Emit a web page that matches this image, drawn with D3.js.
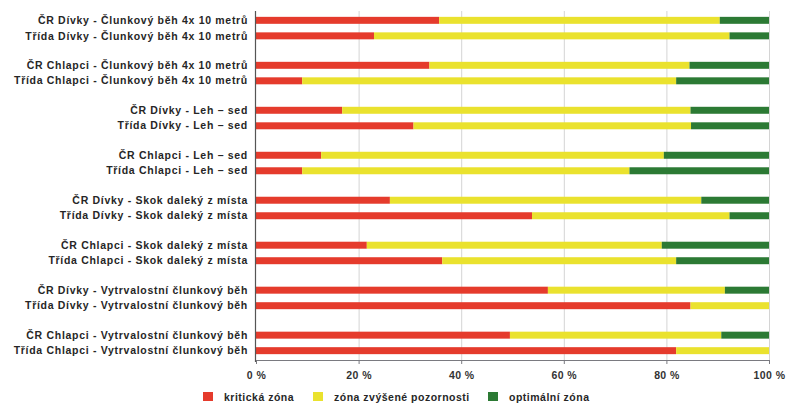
<!DOCTYPE html>
<html>
<head>
<meta charset="utf-8">
<script src="https://cdn.jsdelivr.net/npm/d3@7"></script>
<style>
  html, body { margin: 0; padding: 0; background: #fff; }
  svg { display: block; font-family: "Liberation Sans", Arial, sans-serif; }
</style>
</head>
<body>
<svg id="chart" width="788" height="403"></svg>
<script>
// Fitness test categories (pairs: national ČR vs. class)
const groups = [
  "Člunkový běh Dívky", "Člunkový běh Chlapci",
  "Leh – sed Dívky", "Leh – sed Chlapci",
  "Skok Dívky", "Skok Chlapci",
  "Vytrvalostní Dívky", "Vytrvalostní Chlapci"
];
const rowLabels = [
  "ČR Dívky - Člunkový běh 4x 10 metrů", "Třída Dívky - Člunkový běh 4x 10 metrů",
  "ČR Chlapci - Člunkový běh 4x 10 metrů", "Třída Chlapci - Člunkový běh 4x 10 metrů",
  "ČR Dívky - Leh – sed", "Třída Dívky - Leh – sed",
  "ČR Chlapci - Leh – sed", "Třída Chlapci - Leh – sed",
  "ČR Dívky - Skok daleký z místa", "Třída Dívky - Skok daleký z místa",
  "ČR Chlapci - Skok daleký z místa", "Třída Chlapci - Skok daleký z místa",
  "ČR Dívky - Vytrvalostní člunkový běh", "Třída Dívky - Vytrvalostní člunkový běh",
  "ČR Chlapci - Vytrvalostní člunkový běh", "Třída Chlapci - Vytrvalostní člunkový běh"
];
// Percent shares per zone
const kriticka = [35.7, 23.0, 33.8, 9.0, 16.8, 30.7, 12.7, 9.0, 26.1, 53.8, 21.6, 36.3, 56.9, 84.7, 49.5, 81.9];
const zvysena  = [54.7, 69.3, 50.7, 72.9, 67.9, 54.1, 66.8, 63.8, 60.7, 38.5, 57.5, 45.6, 34.5, 15.3, 41.2, 18.1];
const optimalni = [9.6, 7.7, 15.5, 18.1, 15.3, 15.2, 20.5, 27.2, 13.2, 7.7, 20.9, 18.1, 8.6, 0, 9.3, 0];
const seriesNames = ["kritická zóna", "zóna zvýšené pozornosti", "optimální zóna"];
const seriesColors = ["#e53b2c", "#eae22e", "#2c7a34"];
const tickValues = [0, 20, 40, 60, 80, 100];

const svg = d3.select("#chart");
const plotLeft = 256, plotRight = 769, plotTop = 11, plotBottom = 360;

const x = d3.scaleLinear().domain([0, 100]).range([plotLeft, plotRight]);
const yGroup = d3.scaleBand().domain(groups).range([plotTop, plotBottom])
  .paddingInner(0.5).paddingOuter(0.13);
const yInner = d3.scaleBand().domain([0, 1]).range([0, yGroup.bandwidth()])
  .paddingInner(0.55).paddingOuter(0);

const rows = rowLabels.map((label, i) => ({
  label, i,
  values: [kriticka[i], zvysena[i], optimalni[i]]
}));
const rowY = r => yGroup(groups[Math.floor(r.i / 2)]) + yInner(r.i % 2);

// Vertical gridlines
svg.append("g").selectAll("line")
  .data(tickValues.filter(v => v > 0))
  .join("line")
  .attr("x1", d => x(d) + 0.5).attr("x2", d => x(d) + 0.5)
  .attr("y1", plotTop).attr("y2", plotBottom)
  .attr("stroke", "#d4d4d4").attr("stroke-width", 1);

// Stacked bars
const stack = d3.stack().keys([0, 1, 2]).value((d, k) => d.values[k]);
const layers = stack(rows);
svg.append("g").selectAll("g")
  .data(layers)
  .join("g")
  .attr("fill", (d, k) => seriesColors[k])
  .selectAll("rect")
  .data(d => d)
  .join("rect")
  .attr("x", d => x(d[0]))
  .attr("width", d => Math.max(0, x(d[1]) - x(d[0])))
  .attr("y", d => rowY(d.data))
  .attr("height", yInner.bandwidth());

// Row labels
svg.append("g").selectAll("text")
  .data(rows)
  .join("text")
  .attr("x", plotLeft - 8)
  .attr("y", r => rowY(r) + yInner.bandwidth() / 2)
  .attr("dy", "0.35em")
  .attr("text-anchor", "end")
  .attr("font-size", "10.5px")
  .attr("font-weight", "bold")
  .attr("letter-spacing", "0.7px")
  .attr("fill", "#262626")
  .text(r => r.label);

// Bottom axis
const xAxis = svg.append("g")
  .attr("transform", `translate(0,${plotBottom})`)
  .call(d3.axisBottom(x).tickValues(tickValues).tickSize(4).tickFormat(d => d + " %"));
xAxis.select(".domain").attr("stroke", "#7a7a80");
xAxis.selectAll(".tick line").attr("stroke", "#7a7a80");
xAxis.selectAll("text")
  .attr("font-family", "Liberation Sans, Arial, sans-serif")
  .attr("font-size", "10.5px").attr("font-weight", "bold")
  .attr("letter-spacing", "0.4px")
  .attr("fill", "#333").attr("dy", "1.1em");

// Left axis line
svg.append("line")
  .attr("x1", plotLeft - 0.5).attr("x2", plotLeft - 0.5)
  .attr("y1", plotTop).attr("y2", plotBottom + 2)
  .attr("stroke", "#555").attr("stroke-width", 1.2);

// Legend
const legendX = [203, 313, 488];
const legend = svg.append("g").selectAll("g")
  .data(seriesNames)
  .join("g")
  .attr("transform", (d, k) => `translate(${legendX[k]},392)`);
legend.append("rect").attr("width", 10).attr("height", 9)
  .attr("fill", (d, k) => seriesColors[k]);
legend.append("text").attr("x", 21).attr("y", 8.5)
  .attr("font-size", "10.5px").attr("font-weight", "bold")
  .attr("letter-spacing", "0.5px")
  .attr("fill", "#262626")
  .text(d => d);
</script>
</body>
</html>
